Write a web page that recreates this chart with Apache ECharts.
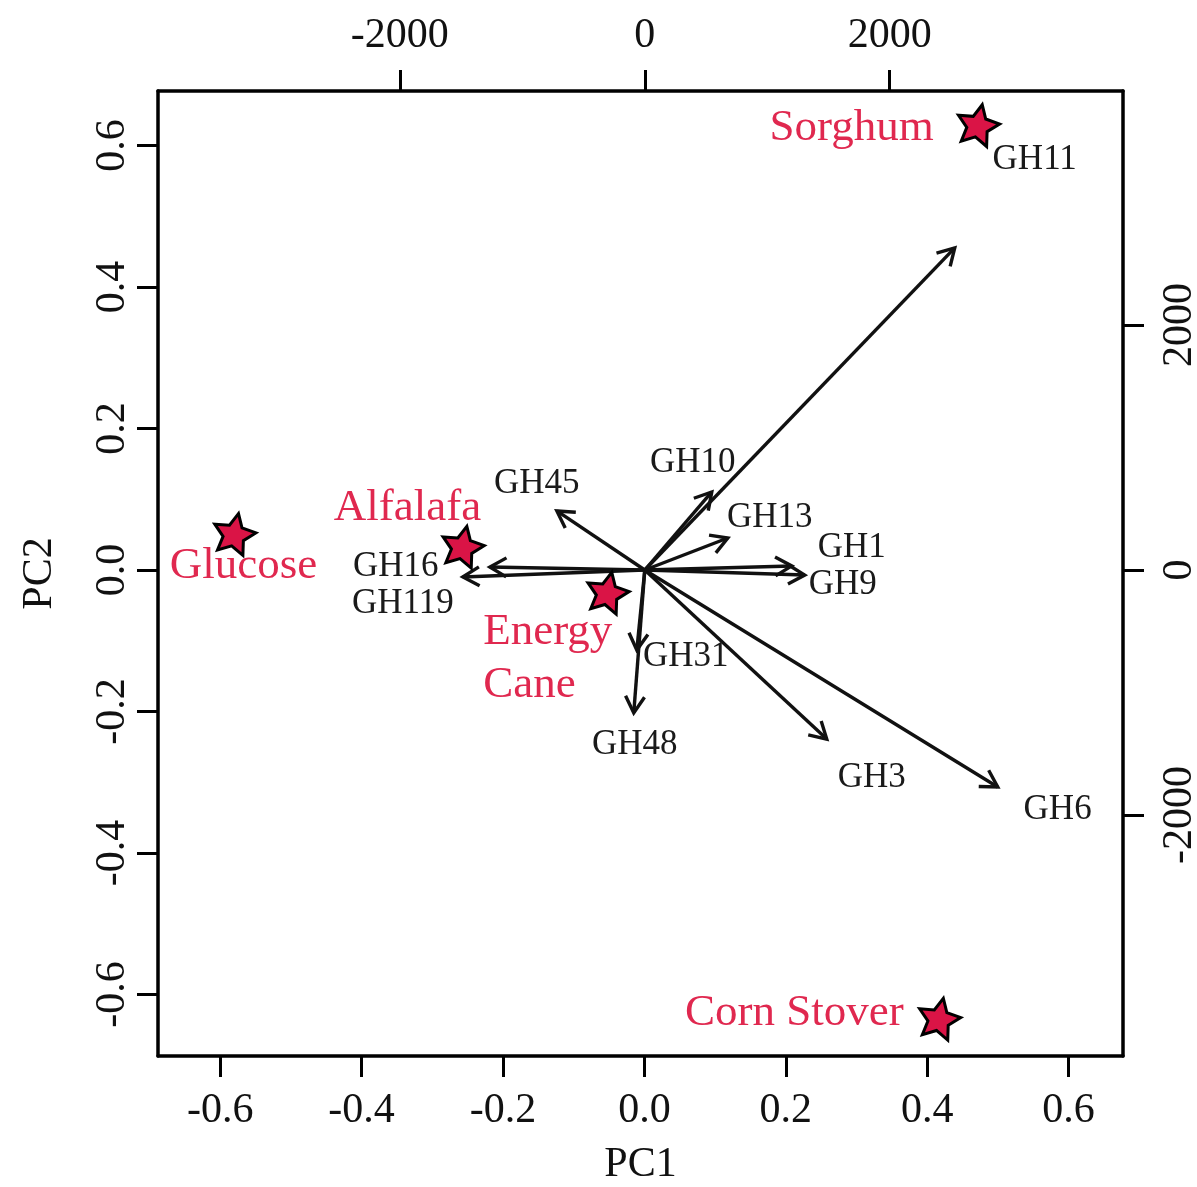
<!DOCTYPE html>
<html><head><meta charset="utf-8">
<script src="https://cdn.jsdelivr.net/npm/echarts@6/dist/echarts.min.js"></script>
<style>html,body{margin:0;padding:0;background:#fff}#c{width:1197px;height:1187px}</style>
</head><body><div id="c"></div>
<script>
// tick values
const pcTicks = [-0.6, -0.4, -0.2, 0, 0.2, 0.4, 0.6];
const loadTicks = [-2000, 0, 2000];
// sample scores (PC1 / PC2)
const sampleNames = ['Sorghum', 'Glucose', 'Alfalafa', 'Energy Cane', 'Corn Stover'];
const samplePC1 = [0.472, -0.580, -0.257, -0.052, 0.417];
const samplePC2 = [0.630, 0.052, 0.034, -0.031, -0.633];
// sample text labels (PC coordinates, like R text(x, y))
const sampleLabelText = ['Sorghum', 'Glucose', 'Alfalafa', 'Energy\nCane', 'Corn Stover'];
const sampleLabelPC1 = [0.293, -0.567, -0.335, -0.228, 0.212];
const sampleLabelPC2 = [0.625, 0.006, 0.088, -0.125, -0.626];
// gene loadings (arrow tips, top/right axis units)
const geneNames = ['GH11', 'GH10', 'GH13', 'GH1', 'GH9', 'GH45', 'GH16', 'GH119', 'GH31', 'GH48', 'GH3', 'GH6'];
const geneX = [2531, 547, 678, 1200, 1306, -718, -1265, -1486, -65, -90, 1486, 2882];
const geneY = [2629, 637, 261, 33, -41, 482, 24, -57, -653, -1167, -1380, -1771];
// gene text labels (top/right axis units)
const geneLabelX = [3184, 392, 1020, 1690, 1616, -882, -2033, -1975, 335, -82, 1853, 3371];
const geneLabelY = [3347, 873, 424, 180, -122, 702, 24, -278, -710, -1429, -1698, -1959];

const FONT = 'Liberation Serif';
const starPath = 'path://M0,-10 L2.9,-4 L9.511,-3.090 L4.7,1.5 L5.878,8.090 L0,4.9 L-5.878,8.090 L-4.7,1.5 L-9.511,-3.090 L-2.9,-4 Z';

function axisCommon(ticks, fmt, extra, labelExtra) {
  return Object.assign({
    type: 'value',
    axisLine: { show: true, onZero: false, lineStyle: { color: '#000', width: 3.5 } },
    axisTick: { show: true, inside: false, length: 21, customValues: ticks, lineStyle: { color: '#000', width: 3 } },
    axisLabel: Object.assign({ customValues: ticks, formatter: fmt, fontSize: 42, fontFamily: FONT, color: '#111' }, labelExtra),
    splitLine: { show: false }
  }, extra);
}

const chart = echarts.init(document.getElementById('c'), null, { renderer: 'canvas' });
chart.setOption({
  animation: false,
  backgroundColor: '#fff',
  grid: { left: 158, top: 91, width: 965, height: 965, containLabel: false, outerBoundsMode: 'none' },
  xAxis: [
    axisCommon(pcTicks, v => v.toFixed(1), {
      position: 'bottom', min: -0.688, max: 0.677,
      name: 'PC1', nameLocation: 'middle', nameGap: 88,
      nameTextStyle: { fontSize: 42, fontFamily: FONT, color: '#111' }
    }, { margin: 34 }),
    axisCommon(loadTicks, v => String(v), { position: 'top', min: -3975, max: 3905 }, { margin: 34 })
  ],
  yAxis: [
    axisCommon(pcTicks, v => v.toFixed(1), {
      position: 'left', min: -0.687, max: 0.677,
      name: 'PC2', nameLocation: 'middle', nameGap: 97, nameRotate: 90,
      nameTextStyle: { fontSize: 42, fontFamily: FONT, color: '#111' }
    }, { rotate: 90, margin: 24 }),
    axisCommon(loadTicks, v => String(v), { position: 'right', min: -3967, max: 3910 }, { rotate: 90, margin: 36 })
  ],
  series: [
    {
      type: 'custom',
      xAxisIndex: 1, yAxisIndex: 1,
      data: geneNames.map((n, i) => [geneX[i], geneY[i]]),
      renderItem: function (params, api) {
        const o = api.coord([0, 0]);
        const t = api.coord([api.value(0), api.value(1)]);
        const ang = Math.atan2(t[1] - o[1], t[0] - o[0]);
        const L = 19, a = Math.PI / 6;
        const p1 = [t[0] - L * Math.cos(ang - a), t[1] - L * Math.sin(ang - a)];
        const p2 = [t[0] - L * Math.cos(ang + a), t[1] - L * Math.sin(ang + a)];
        return {
          type: 'group', children: [
            { type: 'line', shape: { x1: o[0], y1: o[1], x2: t[0], y2: t[1] }, style: { stroke: '#111', lineWidth: 3.4 } },
            { type: 'polyline', shape: { points: [p1, t, p2] }, style: { stroke: '#111', lineWidth: 3.4, fill: null } }
          ]
        };
      },
      z: 3
    },
    {
      type: 'scatter',
      xAxisIndex: 1, yAxisIndex: 1,
      symbolSize: 0,
      itemStyle: { opacity: 1 },
      data: geneNames.map((n, i) => ({ value: [geneLabelX[i], geneLabelY[i]], name: n })),
      label: {
        show: true, position: 'inside', formatter: p => p.name,
        fontSize: 35, fontFamily: FONT, color: '#1a1a1a'
      },
      z: 4
    },
    {
      type: 'scatter',
      xAxisIndex: 0, yAxisIndex: 0,
      symbol: starPath, symbolSize: 42, symbolKeepAspect: true, symbolRotate: -12,
      itemStyle: { color: '#DA1446', borderColor: '#000', borderWidth: 3, opacity: 1 },
      data: sampleNames.map((n, i) => ({ value: [samplePC1[i], samplePC2[i]], name: n })),
      z: 5
    },
    {
      type: 'scatter',
      xAxisIndex: 0, yAxisIndex: 0,
      symbolSize: 0,
      itemStyle: { opacity: 1 },
      data: sampleLabelText.map((t, i) => ({
        value: [sampleLabelPC1[i], sampleLabelPC2[i]], name: t,
        label: t.indexOf('\n') >= 0 ? { align: 'left' } : {}
      })),
      label: {
        show: true, position: 'inside', formatter: p => p.name,
        fontSize: 45, lineHeight: 53, fontFamily: FONT, color: '#E0284F'
      },
      z: 6
    }
  ]
});
</script>
</body></html>
